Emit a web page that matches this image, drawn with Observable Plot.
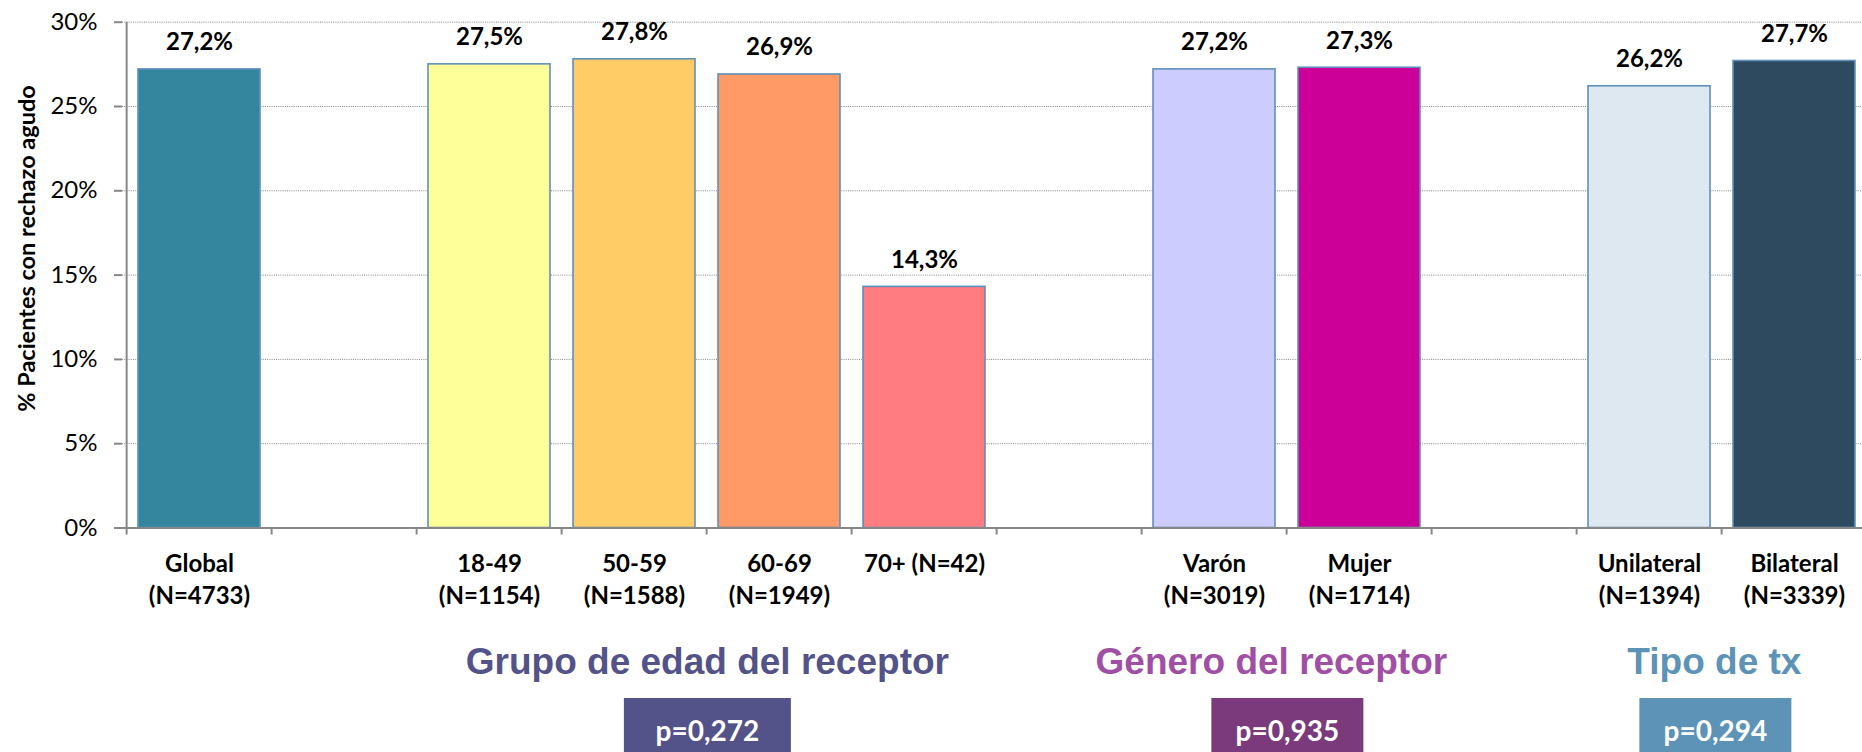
<!DOCTYPE html>
<html>
<head>
<meta charset="utf-8">
<script src="https://cdn.jsdelivr.net/npm/d3@7"></script>
<script src="https://cdn.jsdelivr.net/npm/@observablehq/plot@0.6"></script>
<style>
  html, body { margin: 0; padding: 0; background: #fff; overflow: hidden; }
  #chart { width: 1862px; height: 752px; overflow: hidden; }
  #chart svg { max-width: none !important; }
</style>
</head>
<body>
<div id="chart"></div>
<script>
// ---------- data ----------
const categoryKeys = ["Global", "gap1", "18-49", "50-59", "60-69", "70+", "gap2", "Varón", "Mujer", "gap3", "Unilateral", "Bilateral"];
const barCategories = ["Global", "18-49", "50-59", "60-69", "70+", "Varón", "Mujer", "Unilateral", "Bilateral"];
const barValues = [27.2, 27.5, 27.8, 26.9, 14.3, 27.2, 27.3, 26.2, 27.7];
const barN = [4733, 1154, 1588, 1949, 42, 3019, 1714, 1394, 3339];
const barColors = ["#33869E", "#FFFF99", "#FFCC66", "#FF9966", "#FF7C80", "#CCCCFF", "#CC0099", "#DDE8F0", "#2D4A5E"];
const yTicks = [0, 5, 10, 15, 20, 25, 30];
const yTitle = "% Pacientes con rechazo agudo";
const groupTitles = ["Grupo de edad del receptor", "Género del receptor", "Tipo de tx"];
const groupPValues = ["p=0,272", "p=0,935", "p=0,294"];
const groupAnchor = ["50-59", "Varón", "Unilateral"];
const groupTitleColors = ["#535389", "#A04FA4", "#5D93B6"];
const groupBoxColors = ["#535389", "#7B3A7B", "#5D93B6"];

// ---------- layout ----------
const W = 1880, H = 752;
const mL = 122, mR = W - 1871, mT = 21.7, mB = H - 527.5;
const step = (W - mL - mR) / categoryKeys.length;
const axisGray = "#878787";
const titleDx = [0, -16, -8];
const boxDx = [0, 0, -7];
const boxW = [167, 152, 152];

const bars = barCategories.map((c, i) => ({
  cat: c,
  value: barValues[i],
  n: barN[i],
  color: barColors[i],
  label: c === "70+" ? `70+ (N=${barN[i]})` : `${c}\n(N=${barN[i]})`
}));
const groups = groupTitles.map((t, i) => ({
  title: t, p: groupPValues[i], anchor: groupAnchor[i],
  tcolor: groupTitleColors[i], bcolor: groupBoxColors[i]
}));

const fmt = v => v.toFixed(1).replace(".", ",") + "%";

const groupMarks = groups.flatMap((g, i) => [
  Plot.ruleX([g], {
    x: "anchor", dx: step / 2 + boxDx[i], y1: 0, y2: 0,
    insetTop: 698 - 527.5, insetBottom: -(760 - 527.5),
    stroke: g.bcolor, strokeWidth: boxW[i]
  }),
  Plot.text([g], {
    x: "anchor", dx: step / 2 + boxDx[i], frameAnchor: "bottom", dy: 740 - 527.5,
    lineAnchor: "bottom", text: "p", fill: "#fff",
    fontSize: 28, fontWeight: 700, fontFamily: "Lato"
  }),
  Plot.text([g], {
    x: "anchor", dx: step / 2 + titleDx[i], frameAnchor: "bottom", dy: 673 - 527.5,
    lineAnchor: "bottom", text: "title", fill: g.tcolor,
    fontSize: 37, fontWeight: 700, fontFamily: "Liberation Sans"
  })
]);

const chart = Plot.plot({
  width: W, height: H,
  marginLeft: mL, marginRight: mR, marginTop: mT, marginBottom: mB,
  style: { fontFamily: "Lato", background: "#fff", overflow: "visible", maxWidth: "none" },
  x: { type: "band", domain: categoryKeys, paddingInner: 0.16, paddingOuter: 0.08, axis: null },
  y: { domain: [0, 30], axis: null },
  color: { type: "identity" },
  marks: [
    // gridlines
    Plot.ruleY(yTicks.filter(t => t > 0), { stroke: "#858585", strokeWidth: 1, strokeDasharray: "1,1.2" }),
    // bars
    Plot.barY(bars, { x: "cat", y: "value", fill: "color", stroke: "#5F90BD", strokeWidth: 1.6 }),
    // value labels
    Plot.text(bars, { x: "cat", y: "value", text: d => fmt(d.value), dy: -19, lineAnchor: "bottom",
      fontSize: 24, fontWeight: 700, fill: "#000" }),
    // x axis line & boundary ticks
    Plot.ruleY([0], { stroke: axisGray, strokeWidth: 2 }),
    Plot.ruleX(categoryKeys, { x: d => d, dx: -step / 2, y1: 0, y2: 0, insetBottom: -7, stroke: axisGray, strokeWidth: 2 }),
    // y axis line
    Plot.ruleX([categoryKeys[0]], { x: d => d, dx: -step / 2, stroke: axisGray, strokeWidth: 2 }),
    Plot.axisY({ ticks: yTicks, tickFormat: d => d + "%", tickSize: 8, tickPadding: 17,
      fontSize: 24, stroke: axisGray, strokeWidth: 2, fill: "#000", label: null }),
    // x category labels
    Plot.text(bars, { x: "cat", text: "label", frameAnchor: "bottom", lineAnchor: "top", dy: 20.5,
      lineHeight: 1.35, fontSize: 24, fontWeight: 700, fill: "#000" }),
    // y title
    Plot.text([yTitle], { frameAnchor: "left", text: d => d, rotate: -90, textAnchor: "middle",
      lineAnchor: "middle", dx: -95.5, dy: 248 - 274.6, fontSize: 23.5, fontWeight: 700, fill: "#000" }),
    ...groupMarks
  ]
});

document.getElementById("chart").appendChild(chart);
</script>
</body>
</html>
